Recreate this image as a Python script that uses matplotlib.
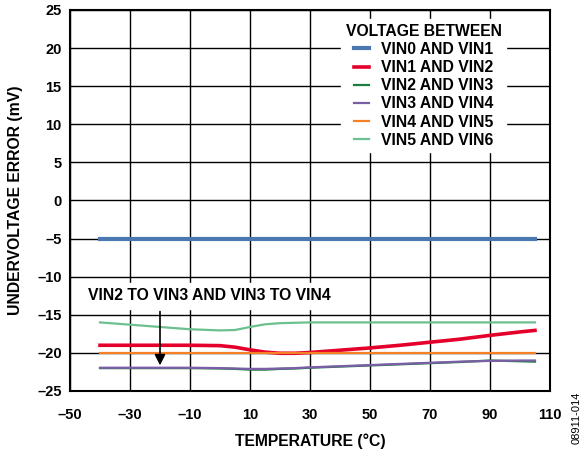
import numpy as np
import matplotlib.pyplot as plt

plt.rcParams['font.family'] = ['Liberation Sans', 'DejaVu Sans']
plt.rcParams['font.weight'] = 'bold'

temp = [-40, -30, -20, -10, 0, 5, 10, 15, 20, 25, 30, 40, 50, 60, 70, 80, 90, 100, 105]

vin0_vin1 = [-5.0] * len(temp)
vin1_vin2 = [-19.0, -19.0, -19.0, -19.0, -19.05, -19.25, -19.6, -19.9, -20.05, -20.05,
             -19.95, -19.65, -19.35, -19.0, -18.6, -18.2, -17.7, -17.25, -17.05]
vin2_vin3 = [-22.0, -22.0, -22.0, -22.0, -22.05, -22.1, -22.2, -22.2, -22.1, -22.05,
             -21.95, -21.8, -21.65, -21.5, -21.35, -21.2, -21.0, -21.1, -21.15]
vin3_vin4 = [-21.95, -21.95, -21.95, -21.95, -22.0, -22.05, -22.1, -22.1, -22.05, -22.0,
             -21.9, -21.75, -21.6, -21.45, -21.3, -21.15, -21.05, -21.0, -21.0]
vin4_vin5 = [-20.0] * len(temp)
vin5_vin6 = [-16.0, -16.3, -16.6, -16.9, -17.05, -17.0, -16.6, -16.25, -16.1, -16.05,
             -16.0, -16.0, -16.0, -16.0, -16.0, -16.0, -16.0, -16.0, -16.0]

series = [
    ("VIN0 AND VIN1", vin0_vin1, "#4a78b0", 3.0),
    ("VIN1 AND VIN2", vin1_vin2, "#e4002b", 2.6),
    ("VIN2 AND VIN3", vin2_vin3, "#1a7f3c", 1.6),
    ("VIN3 AND VIN4", vin3_vin4, "#7b5ea7", 1.6),
    ("VIN4 AND VIN5", vin4_vin5, "#f58025", 1.6),
    ("VIN5 AND VIN6", vin5_vin6, "#6cc08f", 1.6),
]

fig = plt.figure(figsize=(5.81, 4.53), dpi=100)
ax = fig.add_axes([0.1205, 0.1369, 0.8261, 0.8411])

for name, vals, col, lw in series:
    ax.plot(temp, vals, color=col, lw=lw, label=name)

ax.set_xlim(-50, 110)
ax.set_ylim(-25, 25)
ax.set_xticks(np.arange(-50, 111, 20))
ax.set_yticks(np.arange(-25, 26, 5))
ax.set_xticklabels([str(t).replace('-', '\u2013') for t in range(-50, 111, 20)])
ax.set_yticklabels([str(t).replace('-', '\u2013') for t in range(-25, 26, 5)])
ax.tick_params(length=0, labelsize=10.5)
ax.tick_params(axis='x', pad=12)
ax.tick_params(axis='y', pad=6)
ax.grid(True, color='black', lw=1.0)
for s in ax.spines.values():
    s.set_linewidth(1.5)

ax.set_xlabel("TEMPERATURE (°C)", fontsize=11.3, fontweight='bold')
ax.set_ylabel("UNDERVOLTAGE ERROR (mV)", fontsize=11.3, fontweight='bold')
ax.xaxis.set_label_coords(0.5, -0.112)
ax.yaxis.set_label_coords(-0.097, 0.5)

leg = ax.legend(title="VOLTAGE BETWEEN", loc='upper right', bbox_to_anchor=(0.909, 0.976),
                frameon=True, fontsize=11.3, title_fontsize=11.3, handlelength=1.0,
                handletextpad=0.75, labelspacing=0.2, borderpad=0.3, borderaxespad=0.0)
leg.get_frame().set_edgecolor('white')
leg.get_frame().set_facecolor('white')
leg.get_frame().set_alpha(1.0)
leg.get_title().set_fontweight('bold')
for t in leg.get_texts():
    t.set_fontweight('bold')

ax.annotate("", xy=(-20, -22.0), xytext=(-20, -14.2),
            arrowprops=dict(arrowstyle='-|>', color='black', lw=1.2, mutation_scale=16))
ax.text(-44, -12.5, "VIN2 TO VIN3 AND VIN3 TO VIN4", fontsize=11.3, fontweight='bold',
        va='center', ha='left', backgroundcolor='white')

fig.text(0.993, 0.135, "08911-014", rotation=90, fontsize=8, fontweight='normal',
         ha='center', va='top')

fig.savefig("out.png", dpi=100)
